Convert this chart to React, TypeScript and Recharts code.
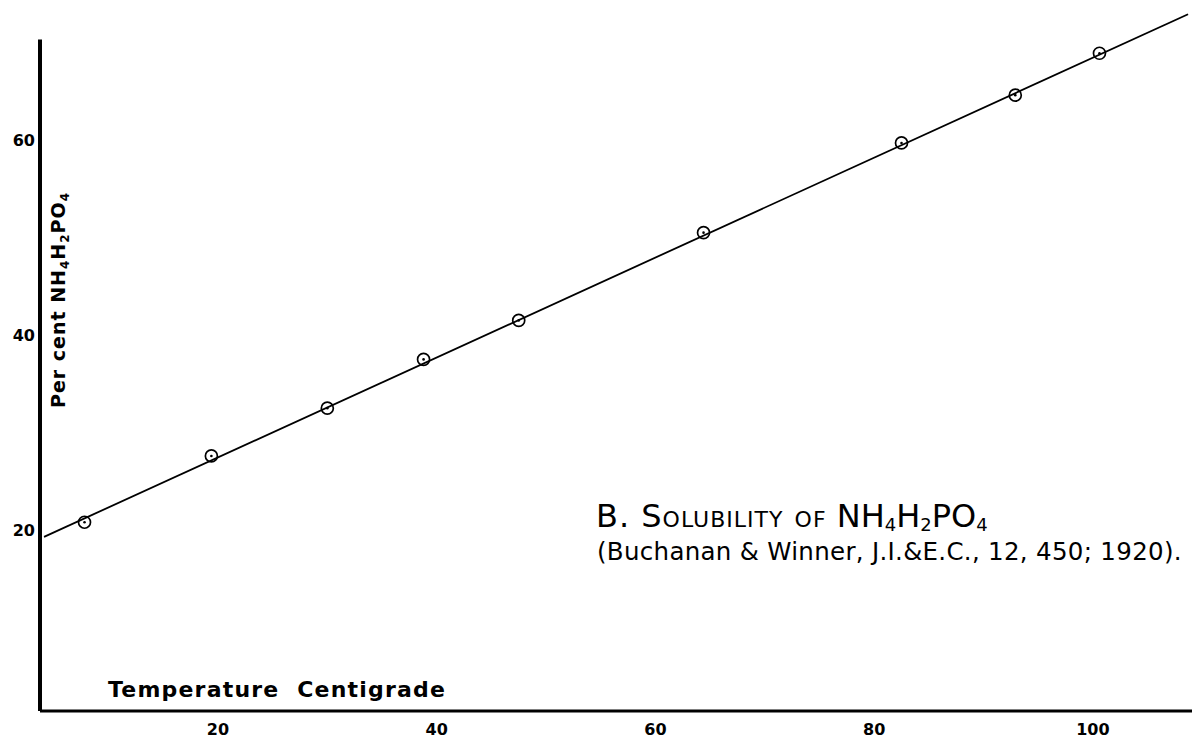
import { ComposedChart, Line, ReferenceLine, Scatter, XAxis, YAxis } from "recharts";

// readings (temperature °C, per cent NH4H2PO4)
const temps = [7.8, 19.4, 30.0, 38.8, 47.5, 64.4, 82.5, 92.9, 100.6];
const percents = [20.8, 27.6, 32.5, 37.5, 41.5, 50.5, 59.7, 64.6, 68.9];

// the ruled line through them
const fitTemps = [4.1, 108.7];
const fitPercents = [19.3, 72.9];

const xTicks = [20, 40, 60, 80, 100];
const yTicks = [20, 40, 60];

const X_MIN = 3.73;
const X_MAX = 109.06;
const Y_MIN = 1.44;
const Y_MAX = 74.36;
const Y_AXIS_TOP = 70.3;

const points = temps.map((t, i) => ({ t, v: percents[i] }));
const fit = fitTemps.map((t, i) => ({ t, v: fitPercents[i] }));

const hand = "'DejaVu Sans', Lato, sans-serif";

function Ring(props: any) {
  const { cx, cy } = props;
  if (cx == null || cy == null) return null;
  return (
    <g>
      <circle cx={cx} cy={cy} r={6} fill="none" stroke="#000" strokeWidth={1.7} />
      <circle cx={cx} cy={cy} r={1.3} fill="#000" />
    </g>
  );
}

const titleSub = { fontSize: 18, lineHeight: 0, verticalAlign: "-0.2em" };

export default function App() {
  return (
    <div
      style={{
        position: "fixed",
        left: 0,
        top: 0,
        width: 1192,
        height: 742,
        background: "#fff",
        fontFamily: hand,
        color: "#000",
      }}
    >
      <ComposedChart
        width={1192}
        height={742}
        margin={{ top: 0, right: 0, bottom: 0, left: 0 }}
      >
        <XAxis
          type="number"
          dataKey="t"
          domain={[X_MIN, X_MAX]}
          ticks={xTicks}
          allowDataOverflow
          axisLine={{ stroke: "#000", strokeWidth: 3 }}
          tickLine={false}
          tickSize={0}
          tickMargin={13}
          tick={{ fill: "#000", fontSize: 16, fontWeight: 700, fontFamily: hand }}
          height={31}
        />
        <YAxis
          type="number"
          dataKey="v"
          domain={[Y_MIN, Y_MAX]}
          ticks={yTicks}
          allowDataOverflow
          axisLine={false}
          tickLine={false}
          tickSize={0}
          tickMargin={5}
          width={40}
          tick={{ fill: "#000", fontSize: 16, fontWeight: 700, fontFamily: hand }}
        />
        <ReferenceLine
          segment={[
            { x: X_MIN, y: Y_MIN },
            { x: X_MIN, y: Y_AXIS_TOP },
          ]}
          stroke="#000"
          strokeWidth={4}
          ifOverflow="visible"
        />
        <Line
          data={fit}
          dataKey="v"
          stroke="#000"
          strokeWidth={1.8}
          dot={false}
          activeDot={false}
          isAnimationActive={false}
        />
        <Scatter data={points} shape={Ring} isAnimationActive={false} />
      </ComposedChart>

      <div
        style={{
          position: "absolute",
          left: 108,
          top: 679,
          fontSize: 22,
          fontWeight: 600,
          letterSpacing: 1.2,
          whiteSpace: "nowrap",
          lineHeight: 1,
        }}
      >
        Temperature&nbsp;&nbsp;Centigrade
      </div>

      <div
        style={{
          position: "absolute",
          left: 60,
          top: 300,
          transform: "translate(-50%, -50%) rotate(-90deg)",
          fontSize: 19,
          fontWeight: 600,
          letterSpacing: 1,
          whiteSpace: "nowrap",
          lineHeight: 1,
        }}
      >
        Per cent NH<sub style={{ fontSize: 12 }}>4</sub>H<sub style={{ fontSize: 12 }}>2</sub>PO
        <sub style={{ fontSize: 12 }}>4</sub>
      </div>

      <div
        style={{
          position: "absolute",
          left: 596,
          top: 500,
          fontSize: 32,
          whiteSpace: "nowrap",
          lineHeight: 1,
        }}
      >
        <span style={{ fontVariant: "small-caps", letterSpacing: 1 }}>B. Solubility of</span>{" "}
        <span>
          NH<span style={titleSub}>4</span>H<span style={titleSub}>2</span>PO
          <span style={titleSub}>4</span>
        </span>
      </div>

      <div
        style={{
          position: "absolute",
          left: 597,
          top: 540,
          fontSize: 24.5,
          whiteSpace: "nowrap",
          lineHeight: 1,
          letterSpacing: 0.3,
        }}
      >
        (Buchanan &amp; Winner, J.I.&amp;E.C., 12, 450; 1920).
      </div>
    </div>
  );
}
